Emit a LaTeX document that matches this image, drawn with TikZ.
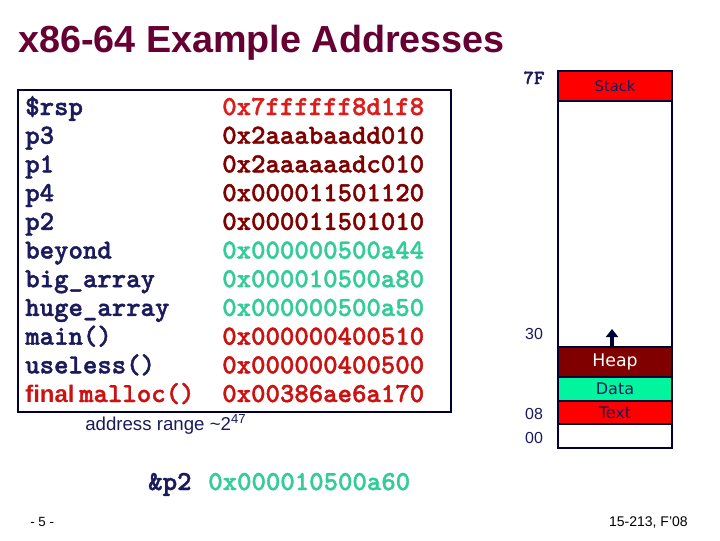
\documentclass[tikz,border=0pt]{standalone}
\usepackage{fontspec}
\setmainfont{Liberation Sans}
\newfontfamily\comicfont{DejaVu Sans}
\newfontfamily\codefont[FakeBold=1.5]{lmmonolt10-bold.otf}
\usetikzlibrary{arrows.meta}
\definecolor{titlecol}{HTML}{660033}
\definecolor{namecol}{HTML}{1A1A5C}
\definecolor{rspcol}{HTML}{DD1C1C}
\definecolor{heapcol}{HTML}{800000}
\definecolor{datacol}{HTML}{33CC99}
\definecolor{codecol}{HTML}{CC1111}
\definecolor{barline}{HTML}{000033}
\definecolor{datafill}{HTML}{00F59E}
\tikzset{
  varname/.style={anchor=base west, inner sep=0pt, text=namecol,
    font=\codefont\fontsize{20.6}{20.6}\selectfont},
  addr/.style={anchor=base west, inner sep=0pt,
    font=\codefont\fontsize{20.6}{20.6}\selectfont},
  seg/.style={draw=barline, line width=1.8pt, minimum width=85.5pt, inner sep=0pt,
    font=\comicfont\fontsize{11}{11}\selectfont},
  sidelabel/.style={anchor=base, inner sep=0pt, text=namecol,
    font=\fontsize{12}{12}\selectfont}
}
\begin{document}
\begin{tikzpicture}[x=0.75pt,y=-0.75pt]
\useasboundingbox (0,0) rectangle (720,540);
\node[anchor=base west, inner sep=0pt, text=titlecol, font=\bfseries\fontsize{28.3}{28.3}\selectfont] (title) at (18,52) {x86-64 Example Addresses};
% table of addresses
\draw[barline, line width=0.8pt] (18,90) rectangle (451,412);
\node[varname] (n1) at (25,115) {\$rsp};
\node[addr, text=rspcol] (a1) at (222,115) {0x7ffffff8d1f8};
\node[varname] (n2) at (25,143.7) {p3};
\node[addr, text=heapcol] (a2) at (222,143.7) {0x2aaabaadd010};
\node[varname] (n3) at (25,172.4) {p1};
\node[addr, text=heapcol] (a3) at (222,172.4) {0x2aaaaaadc010};
\node[varname] (n4) at (25,201.1) {p4};
\node[addr, text=heapcol] (a4) at (222,201.1) {0x000011501120};
\node[varname] (n5) at (25,229.8) {p2};
\node[addr, text=heapcol] (a5) at (222,229.8) {0x000011501010};
\node[varname] (n6) at (25,258.5) {beyond};
\node[addr, text=datacol] (a6) at (222,258.5) {0x000000500a44};
\node[varname] (n7) at (25,287.2) {big\_array};
\node[addr, text=datacol] (a7) at (222,287.2) {0x000010500a80};
\node[varname] (n8) at (25,315.9) {huge\_array};
\node[addr, text=datacol] (a8) at (222,315.9) {0x000000500a50};
\node[varname] (n9) at (25,344.6) {main()};
\node[addr, text=codecol] (a9) at (222,344.6) {0x000000400510};
\node[varname] (n10) at (25,373.3) {useless()};
\node[addr, text=codecol] (a10) at (222,373.3) {0x000000400500};
\node[varname, text=codecol] (n11) at (25,402) {{\rmfamily\bfseries\fontsize{18}{18}\selectfont final}\,malloc()};
\node[addr, text=codecol] (a11) at (222,402) {0x00386ae6a170};
\node[anchor=base west, inner sep=0pt, text=namecol, font=\fontsize{14}{14}\selectfont] (range) at (85,430) {address range \textasciitilde 2\textsuperscript{47}};
\node[varname] (pn) at (148,490) {\&p2};
\node[addr, text=datacol] (pa) at (208,490) {0x000010500a60};
% memory layout
\draw[barline, line width=1.8pt] (558,71) rectangle (672,448);
\node[seg, fill=red, minimum height=22.5pt, text=namecol] (stack) at (615,86) {Stack};
\node[seg, fill=heapcol, minimum height=22.5pt, text=white, font=\comicfont\fontsize{13}{13}\selectfont] (heap) at (615,362) {Heap};
\node[seg, fill=datafill, minimum height=18pt, text=namecol, font=\comicfont\fontsize{12}{12}\selectfont] (data) at (615,389) {Data};
\node[seg, fill=red, minimum height=17.25pt, text=namecol, font=\comicfont\fontsize{12}{12}\selectfont] (text) at (615,412.5) {Text};
\coordinate (heaptip) at (612,329);
\draw[barline, line width=3pt, -{Triangle[length=6pt,width=9pt]}] (heap.north -| heaptip) -- (heaptip);
\node[sidelabel, font=\codefont\fontsize{15}{15}\selectfont] (m7f) at (534,84) {7F};
\node[sidelabel] (m30) at (534,339) {30};
\node[sidelabel] (m08) at (534,419) {08};
\node[sidelabel] (m00) at (534,443) {00};
% footer
\node[anchor=base west, inner sep=0pt, font=\fontsize{10}{10}\selectfont] (page) at (30,526) {- 5 -};
\node[anchor=base east, inner sep=0pt, font=\fontsize{10.5}{10.5}\selectfont] (course) at (688,526) {15-213, F'08};
\end{tikzpicture}
\end{document}
